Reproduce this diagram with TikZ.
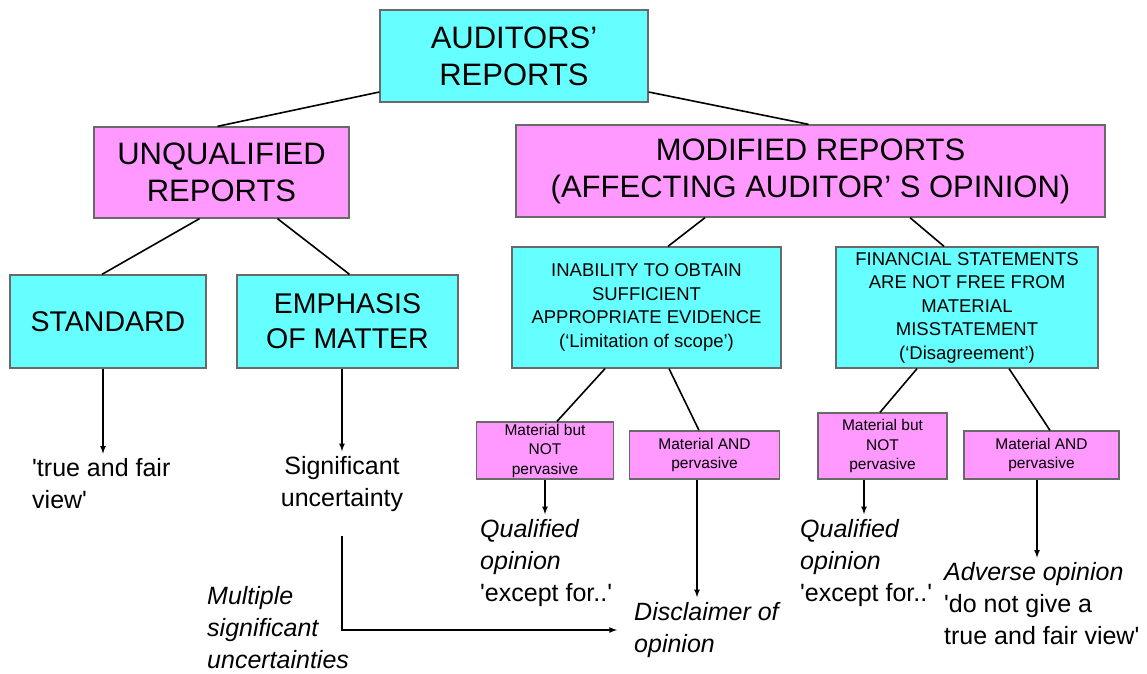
\documentclass[tikz,border=0pt]{standalone}
\usepackage{fontspec}
\setmainfont{Liberation Sans}
\usepackage{tikz}
\usetikzlibrary{arrows}
\usepackage{xcolor}
\definecolor{boxcyan}{RGB}{102,255,255}
\definecolor{boxpink}{RGB}{255,153,255}
\definecolor{boxedge}{RGB}{105,105,105}
\newcommand{\bigtxt}{\fontsize{31}{37}\selectfont}
\newcommand{\midtxt}{\fontsize{28.5}{35}\selectfont}
\newcommand{\smalltxt}{\fontsize{18.5}{23.5}\selectfont}
\newcommand{\tinytxt}{\fontsize{15.5}{19.5}\selectfont}
\newcommand{\outtxt}{\fontsize{25}{32}\selectfont}
\newcommand{\sq}{\textquotesingle}

\tikzset{
  repbox/.style={draw=boxedge, line width=1.3pt, align=center, inner sep=0pt},
  cyanbox/.style={repbox, fill=boxcyan},
  pinkbox/.style={repbox, fill=boxpink},
  outcome/.style={inner sep=0pt, align=left, anchor=west, font=\outtxt},
  link/.style={line width=1.6pt},
  arr/.style={line width=1.6pt, ->, arrows={-latex}}
}

\begin{document}
\begin{tikzpicture}[x=1pt,y=-1pt]
\useasboundingbox (0,0) rectangle (1147,673);

\node[cyanbox, minimum width=268pt, minimum height=92pt, font=\bigtxt] (aud) at (514,56) {AUDITORS’\\REPORTS};
\node[pinkbox, minimum width=255pt, minimum height=91pt, font=\bigtxt] (unq) at (221.5,172.5) {UNQUALIFIED\\REPORTS};
\node[pinkbox, minimum width=589pt, minimum height=92pt, font=\bigtxt] (mod) at (810.5,171) {MODIFIED REPORTS\\(AFFECTING AUDITOR’ S OPINION)};

\node[cyanbox, minimum width=196pt, minimum height=93pt, font=\midtxt] (std) at (108,321.5) {STANDARD};
\node[cyanbox, minimum width=221pt, minimum height=93pt, font=\midtxt] (emp) at (347.5,321.5) {EMPHASIS\\OF MATTER};
\node[cyanbox, minimum width=269pt, minimum height=121pt, font=\smalltxt] (inab) at (646.5,307.5) {INABILITY TO OBTAIN\\SUFFICIENT\\APPROPRIATE EVIDENCE\\(‘Limitation of scope’)};
\node[cyanbox, minimum width=262pt, minimum height=121pt, font=\smalltxt] (fin) at (967,307.5) {FINANCIAL STATEMENTS\\ARE NOT FREE FROM\\MATERIAL\\MISSTATEMENT\\(‘Disagreement’)};

\node[pinkbox, minimum width=137pt, minimum height=57pt, font=\tinytxt] (mb1) at (545,450.5) {Material but\\NOT\\pervasive};
\node[pinkbox, minimum width=150pt, minimum height=48pt, font=\tinytxt] (ma1) at (704.5,455) {Material AND\\pervasive};
\node[pinkbox, minimum width=129pt, minimum height=66pt, font=\tinytxt] (mb2) at (882.5,446) {Material but\\NOT\\pervasive};
\node[pinkbox, minimum width=155pt, minimum height=48pt, font=\tinytxt] (ma2) at (1041.5,455) {Material AND\\pervasive};

\node[outcome] (tfv) at (32,484) {\sq true and fair\\view\sq};
\node[outcome, align=center, anchor=center] (sig) at (342,484) {Significant\\uncertainty};
\node[outcome] (q1) at (480,563) {\textit{Qualified}\\\textit{opinion}\\\sq except for..\sq};
\node[outcome] (disc) at (634,630) {\textit{Disclaimer of}\\\textit{opinion}};
\node[outcome] (q2) at (800,563) {\textit{Qualified}\\\textit{opinion}\\\sq except for..\sq};
\node[outcome] (adv) at (944,604) {\textit{Adverse opinion}\\\sq do not give a\\true and fair view\sq};
\node[outcome] (mult) at (207,628) {\textit{Multiple}\\\textit{significant}\\\textit{uncertainties}};

\draw[link] ([yshift=-36pt]aud.west) -- ([xshift=-4pt]unq.north);
\draw[link] ([yshift=-36pt]aud.east) -- ([xshift=-2pt]mod.north);
\draw[link] ([xshift=-22pt]unq.south) -- ([xshift=-6pt]std.north);
\draw[link] ([xshift=56pt]unq.south) -- ([xshift=2pt]emp.north);
\draw[link] ([xshift=-105.5pt]mod.south) -- ([xshift=21.5pt]inab.north);
\draw[link] ([xshift=99.5pt]mod.south) -- ([xshift=-23pt]fin.north);
\draw[link] ([xshift=-41.5pt]inab.south) -- ([xshift=12pt]mb1.north);
\draw[link] ([xshift=22.5pt]inab.south) -- ([xshift=-5.5pt]ma1.north);
\draw[link] ([xshift=-50pt]fin.south) -- ([xshift=-2.5pt]mb2.north);
\draw[link] ([xshift=42pt]fin.south) -- ([xshift=8.5pt]ma2.north);

\coordinate (stdout) at ([xshift=-5pt]std.south);
\coordinate (ma1out) at ([xshift=-7.5pt]ma1.south);
\coordinate (mb2out) at ([xshift=-18.5pt]mb2.south);
\coordinate (ma2out) at ([xshift=-4.5pt]ma2.south);
\draw[arr, shorten >=5pt] (stdout) -- (stdout |- tfv.north);
\draw[arr, shorten >=5pt] (sig.north |- emp.south) -- (sig.north);
\draw[arr, shorten >=5pt] (mb1.south) -- (mb1.south |- q1.north);
\draw[arr, shorten >=5pt] (ma1out) -- (ma1out |- disc.north);
\draw[arr, shorten >=5pt] (mb2out) -- (mb2out |- q2.north);
\draw[arr, shorten >=5pt] (ma2out) -- (ma2out |- adv.north);
\draw[arr, shorten <=24pt, shorten >=17pt] (sig.south) |- (disc.west);
\end{tikzpicture}
\end{document}
